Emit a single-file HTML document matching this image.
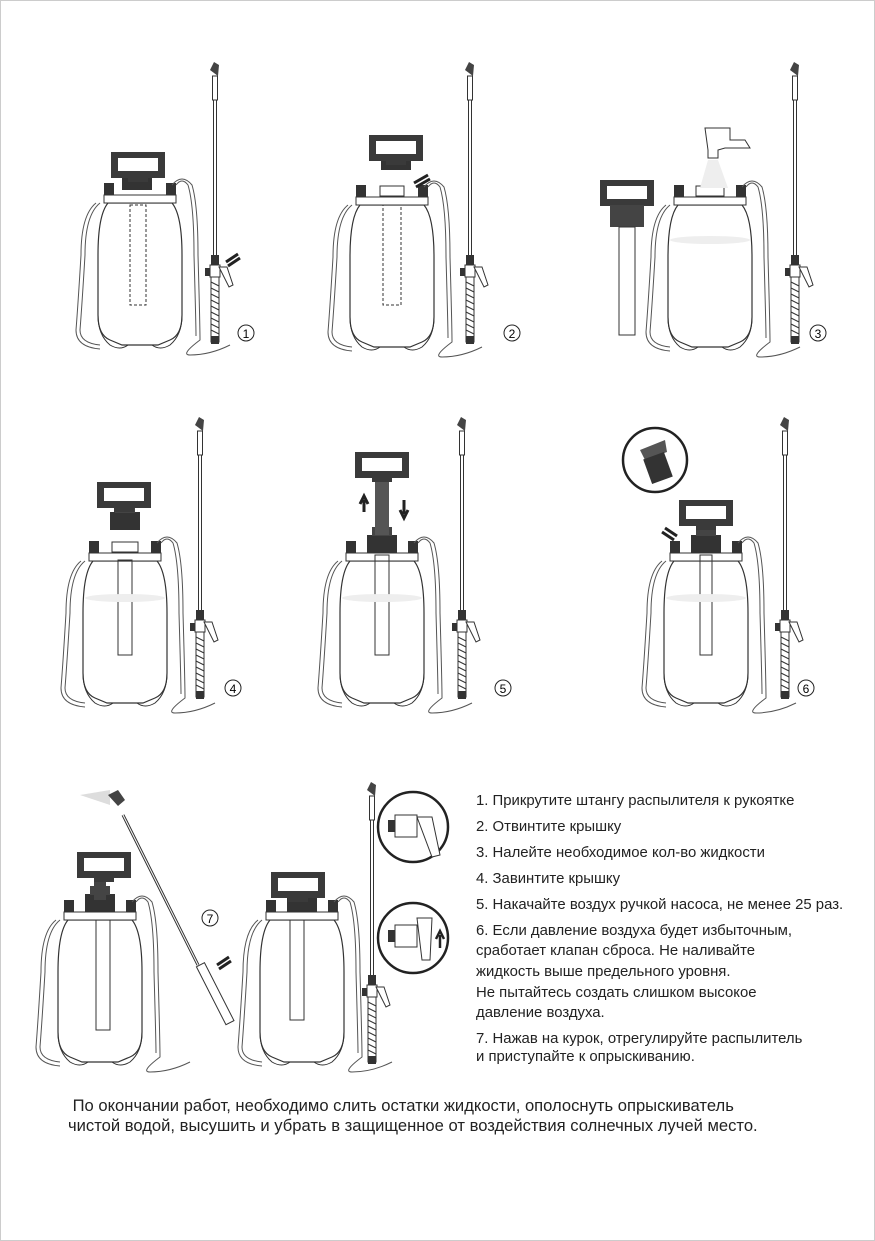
<!DOCTYPE html>
<html><head><meta charset="utf-8"><style>
html,body{margin:0;padding:0;background:#fff}
body{width:875px;height:1241px;position:relative;overflow:hidden;font-family:"Liberation Sans",sans-serif}
.t{position:absolute;font-size:14.9px;color:#222;white-space:nowrap}
.b{position:absolute;font-size:16.6px;color:#222;white-space:nowrap}
</style></head><body>
<svg width="875" height="1241" style="position:absolute;left:0;top:0" xmlns="http://www.w3.org/2000/svg">
<defs>
<g id="tank">
 <path d="M-32,8 Q-42,20 -42,60 L-42,120 Q-42,140 -30,145 L-18,150 L18,150 L30,145 Q42,140 42,120 L42,60 Q42,20 32,8 Z" fill="#fff" stroke="#333" stroke-width="1.2"/>
 <path d="M-42,120 Q-42,140 -30,150 Q-20,156 -12,150" fill="none" stroke="#333" stroke-width="1"/>
 <path d="M42,120 Q42,140 30,150 Q20,156 12,150" fill="none" stroke="#333" stroke-width="1"/>
 <rect x="-36" y="0" width="72" height="8" fill="#fff" stroke="#333"/>
 <rect x="-36" y="-12" width="10" height="12" fill="#333"/>
 <rect x="26" y="-12" width="10" height="12" fill="#333"/>
 <path d="M-40,8 Q-55,20 -55,60 Q-58,110 -60,135 Q-60,148 -40,150" fill="none" stroke="#555" stroke-width="1"/>
 <path d="M-44,8 Q-59,20 -59,60 Q-62,110 -64,135 Q-64,152 -40,154" fill="none" stroke="#555" stroke-width="1"/>
 <path d="M32,-10 Q42,-22 52,-10 Q58,10 58,60 Q60,130 60,145 Q40,160 50,160 Q70,160 90,150" fill="none" stroke="#555" stroke-width="1"/>
 <path d="M36,-10 Q42,-18 48,-10 Q54,10 54,60 Q56,130 56,141" fill="none" stroke="#555" stroke-width="1"/>
</g>
<g id="cap">
 <rect x="-15" y="-18" width="30" height="18" fill="#333"/>
 <rect x="-10" y="-26" width="20" height="9" fill="#444"/>
</g>
<g id="handle">
 <path d="M-27,0 L27,0 L27,26 L10,26 L10,30 L-10,30 L-10,26 L-27,26 Z" fill="#3a3a3a"/>
 <rect x="-20" y="6" width="40" height="13" fill="#fff"/>
</g>
<g id="wand">
 <path d="M-5,0 L-1,-8 L4,-5 L3,6 Z" fill="#444"/>
 <rect x="-2.5" y="6" width="5" height="24" fill="#fff" stroke="#333"/>
 <line x1="-1.5" y1="30" x2="-1.5" y2="185" stroke="#333"/>
 <line x1="1.5" y1="30" x2="1.5" y2="185" stroke="#333"/>
 <rect x="-4" y="185" width="8" height="10" fill="#333"/>
 <rect x="-5" y="195" width="10" height="12" fill="#fff" stroke="#333"/>
 <rect x="-10" y="198" width="5" height="8" fill="#333"/>
 <path d="M4,197 L12,197 L18,215 L14,217 Z" fill="#fff" stroke="#333"/>
 <rect x="-4" y="207" width="8" height="65" fill="#fff" stroke="#333"/>
 <path d="M-4,212 L4,216 M-4,218 L4,222 M-4,224 L4,228 M-4,230 L4,234 M-4,236 L4,240 M-4,242 L4,246 M-4,248 L4,252 M-4,254 L4,258 M-4,260 L4,264" stroke="#333"/>
 <rect x="-4" y="266" width="8" height="8" fill="#333"/>
</g>
</defs>
<rect x="0.5" y="0.5" width="874" height="1240" fill="none" stroke="#ccc"/>

<use href="#tank" x="140" y="195"/>
<use href="#cap" x="137" y="190"/>
<use href="#handle" x="138" y="152"/>
<rect x="130" y="205" width="16" height="100" fill="none" stroke="#333" stroke-dasharray="3,2"/>
<use href="#wand" x="215" y="70"/>
<path d="M226,262 L238,254 M228,266 L240,258" stroke="#222" stroke-width="3"/>
<circle cx="246" cy="333" r="8" fill="none" stroke="#222"/><text x="246" y="338" font-size="12" text-anchor="middle">1</text>

<use href="#tank" x="392" y="197"/>
<rect x="380" y="186" width="24" height="10" fill="#fff" stroke="#333"/>
<use href="#cap" x="396" y="170"/>
<use href="#handle" x="396" y="135"/>
<rect x="383" y="205" width="18" height="100" fill="none" stroke="#333" stroke-dasharray="3,2"/>
<path d="M414,183 L428,175 M416,187 L430,179" stroke="#222" stroke-width="3"/>
<use href="#wand" x="470" y="70"/>
<circle cx="512" cy="333" r="8" fill="none" stroke="#222"/><text x="512" y="338" font-size="12" text-anchor="middle">2</text>

<use href="#tank" x="710" y="197"/>
<rect x="696" y="186" width="28" height="10" fill="#fff" stroke="#333"/>
<ellipse cx="710" cy="240" rx="40" ry="4" fill="#eee"/>
<use href="#wand" x="795" y="70"/>
<use href="#handle" x="627" y="180"/>
<rect x="610" y="205" width="34" height="22" fill="#444"/>
<rect x="619" y="227" width="16" height="108" fill="#fff" stroke="#333"/>
<path d="M705,128 L730,128 L730,140 L745,140 L750,148 L740,148 L725,148 L718,150 L718,158 L708,158 L708,150 Z" fill="#fff" stroke="#333"/>
<path d="M708,160 L700,188 L728,188 L718,160 Z" fill="#eee"/>
<circle cx="818" cy="333" r="8" fill="none" stroke="#222"/><text x="818" y="338" font-size="12" text-anchor="middle">3</text>

<use href="#tank" x="125" y="553"/>
<rect x="112" y="542" width="26" height="10" fill="#fff" stroke="#333"/>
<use href="#cap" x="125" y="530"/>
<use href="#handle" x="124" y="482"/>
<rect x="118" y="560" width="14" height="95" fill="none" stroke="#333"/>
<ellipse cx="125" cy="598" rx="40" ry="4" fill="#eee"/>
<use href="#wand" x="200" y="425"/>
<circle cx="233" cy="688" r="8" fill="none" stroke="#222"/><text x="233" y="693" font-size="12" text-anchor="middle">4</text>

<use href="#tank" x="382" y="553"/>
<use href="#cap" x="382" y="553"/>
<rect x="375" y="480" width="14" height="55" fill="#555"/>
<use href="#handle" x="382" y="452"/>
<rect x="375" y="555" width="14" height="100" fill="none" stroke="#333"/>
<ellipse cx="382" cy="598" rx="40" ry="4" fill="#eee"/>
<path d="M364,512 L364,500 M360,504 L364,496 L368,504" stroke="#222" stroke-width="3" fill="none"/>
<path d="M404,500 L404,514 M400,510 L404,518 L408,510" stroke="#222" stroke-width="3" fill="none"/>
<use href="#wand" x="462" y="425"/>
<circle cx="503" cy="688" r="8" fill="none" stroke="#222"/><text x="503" y="693" font-size="12" text-anchor="middle">5</text>

<use href="#tank" x="706" y="553"/>
<use href="#cap" x="706" y="553"/>
<use href="#handle" x="706" y="500"/>
<rect x="700" y="555" width="12" height="100" fill="none" stroke="#333"/>
<ellipse cx="706" cy="598" rx="40" ry="4" fill="#eee"/>
<path d="M665,528 L677,536 M662,532 L674,540" stroke="#222" stroke-width="3"/>
<use href="#wand" x="785" y="425"/>
<circle cx="655" cy="460" r="32" fill="#fff" stroke="#222" stroke-width="2.5"/>
<path d="M640,450 L665,440 L667,452 L645,460 Z" fill="#555"/>
<rect x="647" y="455" width="22" height="26" fill="#333" transform="rotate(-20 658 468)"/>
<circle cx="806" cy="688" r="8" fill="none" stroke="#222"/><text x="806" y="693" font-size="12" text-anchor="middle">6</text>

<use href="#tank" x="100" y="912"/>
<use href="#cap" x="100" y="912"/>
<rect x="94" y="880" width="12" height="20" fill="#444"/>
<use href="#handle" x="104" y="852"/>
<rect x="96" y="920" width="14" height="110" fill="none" stroke="#333"/>
<path d="M80,795 L110,790 L110,805 Z" fill="#ddd"/>
<path d="M108,795 L118,790 L125,800 L118,806 Z" fill="#444"/>
<line x1="123" y1="815" x2="198" y2="965" stroke="#333" stroke-width="3"/>
<line x1="123" y1="815" x2="198" y2="965" stroke="#fff" stroke-width="1"/>
<rect x="196" y="965" width="9" height="65" fill="#fff" stroke="#333" transform="rotate(-27 200 965)"/>
<path d="M217,965 L229,957 M219,969 L231,961" stroke="#222" stroke-width="3"/>
<circle cx="210" cy="918" r="8" fill="none" stroke="#222"/><text x="210" y="923" font-size="12" text-anchor="middle">7</text>
<use href="#tank" x="302" y="912"/>
<use href="#cap" x="302" y="912"/>
<use href="#handle" x="298" y="872"/>
<rect x="290" y="920" width="14" height="100" fill="none" stroke="#333"/>
<use href="#wand" x="372" y="790"/>
<circle cx="413" cy="827" r="35" fill="#fff" stroke="#222" stroke-width="2.5"/>
<rect x="395" y="815" width="22" height="22" fill="#fff" stroke="#333"/>
<rect x="388" y="820" width="7" height="12" fill="#333"/>
<path d="M417,817 L432,817 L440,855 L432,857 Z" fill="#fff" stroke="#333"/>
<circle cx="413" cy="938" r="35" fill="#fff" stroke="#222" stroke-width="2.5"/>
<rect x="395" y="925" width="22" height="22" fill="#fff" stroke="#333"/>
<rect x="388" y="930" width="7" height="12" fill="#333"/>
<path d="M417,918 L432,918 L430,960 L422,960 Z" fill="#fff" stroke="#333"/>
<path d="M440,948 L440,935 M436,939 L440,931 L444,939" stroke="#222" stroke-width="2.5" fill="none"/>
</svg>
<div class="t" style="left:476px;top:793px">1. Прикрутите штангу распылителя к рукоятке</div>
<div class="t" style="left:476px;top:819px">2. Отвинтите крышку</div>
<div class="t" style="left:476px;top:845px">3. Налейте необходимое кол-во жидкости</div>
<div class="t" style="left:476px;top:871px">4. Завинтите крышку</div>
<div class="t" style="left:476px;top:897px">5. Накачайте воздух ручкой насоса, не менее 25 раз.</div>
<div class="t" style="left:476px;top:923px">6. Если давление воздуха будет избыточным,</div>
<div class="t" style="left:476px;top:943px">сработает клапан сброса. Не наливайте</div>
<div class="t" style="left:476px;top:964px">жидкость выше предельного уровня.</div>
<div class="t" style="left:476px;top:985px">Не пытайтесь создать слишком высокое</div>
<div class="t" style="left:476px;top:1005px">давление воздуха.</div>
<div class="t" style="left:476px;top:1031px">7. Нажав на курок, отрегулируйте распылитель</div>
<div class="t" style="left:476px;top:1049px">и приступайте к опрыскиванию.</div>
<div class="b" style="left:68px;top:1096px">&nbsp;По окончании работ, необходимо слить остатки жидкости, ополоснуть опрыскиватель</div>
<div class="b" style="left:68px;top:1116px">чистой водой, высушить и убрать в защищенное от воздействия солнечных лучей место.</div>
</body></html>
